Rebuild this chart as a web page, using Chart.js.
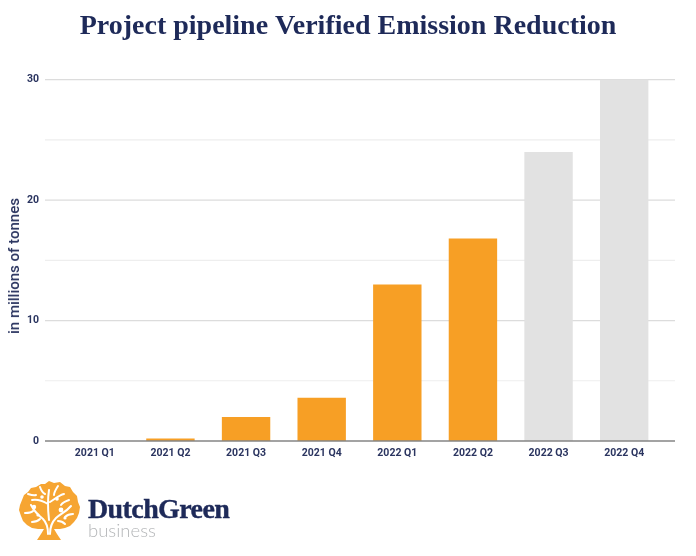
<!DOCTYPE html>
<html lang="en">
<head>
<meta charset="utf-8"/>
<title>Project pipeline Verified Emission Reduction</title>
<script src="https://cdn.jsdelivr.net/npm/chart.js@4/dist/chart.umd.min.js"></script>
<style>
  html, body { margin: 0; padding: 0; background: #fff; }
  #wrap { position: relative; width: 696px; height: 556px; overflow: hidden; }
  #logo { position: absolute; left: 18px; top: 480px; }
  #brand { position: absolute; left: 88px; top: 494px; font: bold 28px "Liberation Serif", serif; color: #1e2a59; letter-spacing: -0.6px; line-height: 30px; -webkit-text-stroke: 0.4px #1e2a59; }
  #sub { position: absolute; left: 88px; top: 519px; font: 300 18.5px Lato, "Open Sans", sans-serif; color: #b4b6b8; line-height: 22px; }
  #ytitle { position: absolute; left: 14px; top: 266px; transform: translate(-50%, -50%) rotate(-90deg); font: 500 15px Roboto, sans-serif; color: #2b3560; white-space: nowrap; }
</style>
</head>
<body>
<div id="wrap">
  <canvas id="chart" width="696" height="556"></canvas>
  <div id="ytitle">in millions of tonnes</div>
  <svg id="logo" width="62" height="61" viewBox="0 0 62 61">
    <path fill="#f6a532" d="M31 1l5 2 6-1 5 4 5 1 3 5 4 4 1 6 2 5-1 6-2 5-3 4-4 4-5 2-5 1-6 0 3 5 4 6H19l4-6 3-5-6 0-6-1-5-3-4-4-2-5-2-6 1-5 2-5 2-5 4-3 3-4 5-1 5-3 4 0z"/>
    <g fill="none" stroke="#fff" stroke-width="2" stroke-linecap="round">
      <path d="M30 54c0-6-1-11-5-15-5-4-9-8-12-14M32 54c0-7 2-12 6-16 4-4 10-6 15-12"/>
      <path d="M31 40c-1-9-2-17 0-30M30 24c-5-3-11-5-16-4M32 22c5-3 9-7 14-8"/>
      <path d="M10 14c3 1 6 2 8 1M22 7c1 3 3 6 5 7M40 6c-2 3-4 6-4 9M51 20c-3 1-6 2-8 5M7 33c3 0 6 0 8-2M55 34c-3 0-6 1-8 3M14 42c3 0 6-1 8-3M47 44c-2-2-5-3-7-3"/>
    </g>
    <g fill="#fff">
      <circle cx="16" cy="27" r="2.2"/><circle cx="24" cy="17" r="1.8"/><circle cx="43" cy="30" r="2.4"/><circle cx="39" cy="19" r="1.8"/><circle cx="20" cy="35" r="1.6"/><circle cx="47" cy="38" r="1.6"/>
    </g>
  </svg>
  <div id="brand">DutchGreen</div>
  <div id="sub">business</div>
</div>
<script>
const quarters = ['2021 Q1', '2021 Q2', '2021 Q3', '2021 Q4', '2022 Q1', '2022 Q2', '2022 Q3', '2022 Q4'];
const tonnes = [0, 0.2, 2, 3.6, 13, 16.8, 24, 30];
const barColors = ['#f79f25', '#f79f25', '#f79f25', '#f79f25', '#f79f25', '#f79f25', '#e2e2e2', '#e2e2e2'];
const gridValues = [5, 10, 15, 20, 25, 30];

const navy = '#2b3560';

// the gridlines run past the first and last category, so they are drawn here
const wideGrid = {
  id: 'wideGrid',
  afterLayout(chart) {
    // center the title on the whole page, not inside the right padding
    chart.titleBlock.left = 0;
    chart.titleBlock.right = chart.width;
    chart.titleBlock.width = chart.width;
  },
  beforeDatasetsDraw(chart) {
    const { ctx, chartArea, scales } = chart;
    const left = chartArea.left - 12, right = chartArea.right + 13;
    ctx.save();
    ctx.lineWidth = 1.2;
    gridValues.forEach(v => {
      const y = scales.y.getPixelForValue(v);
      ctx.strokeStyle = v % 10 === 0 ? '#dcdcdc' : '#eeeeee';
      ctx.beginPath();
      ctx.moveTo(left, y);
      ctx.lineTo(right, y);
      ctx.stroke();
    });
    ctx.restore();
  },
  afterDatasetsDraw(chart) {
    const { ctx, chartArea, scales } = chart;
    const y = scales.y.getPixelForValue(0);
    ctx.save();
    ctx.strokeStyle = '#858585';
    ctx.lineWidth = 1.4;
    ctx.beginPath();
    ctx.moveTo(chartArea.left - 12, y);
    ctx.lineTo(chartArea.right + 13, y);
    ctx.stroke();
    ctx.restore();
  }
};

new Chart(document.getElementById('chart'), {
  type: 'bar',
  plugins: [wideGrid],
  data: {
    labels: quarters,
    datasets: [{
      data: tonnes,
      backgroundColor: barColors,
      categoryPercentage: 1,
      barPercentage: 0.64
    }]
  },
  options: {
    responsive: false,
    animation: false,
    devicePixelRatio: 1,
    layout: { padding: { left: 0, right: 34, top: 0, bottom: 90 } },
    plugins: {
      legend: { display: false },
      tooltip: { enabled: false },
      title: {
        display: true,
        text: 'Project pipeline Verified Emission Reduction',
        color: '#1e2a59',
        font: { family: '"Liberation Serif", serif', size: 28, weight: 'bold' },
        padding: { top: 10, bottom: 36 }
      }
    },
    scales: {
      x: {
        grid: { display: false, drawTicks: false },
        border: { display: false },
        ticks: {
          color: navy,
          font: { family: 'Roboto', size: 10.5, weight: 'bold' },
          maxRotation: 0,
          autoSkip: false,
          padding: 6
        },
        afterFit(axis) { axis.height = 25; }
      },
      y: {
        min: 0,
        max: 30,
        grid: { display: false, drawTicks: false },
        border: { display: false },
        afterFit(axis) { axis.width = 57; },
        ticks: {
          stepSize: 10,
          color: navy,
          font: { family: 'Roboto', size: 10.5, weight: 'bold' },
          padding: 18
        }
      }
    }
  }
});
</script>
</body>
</html>
